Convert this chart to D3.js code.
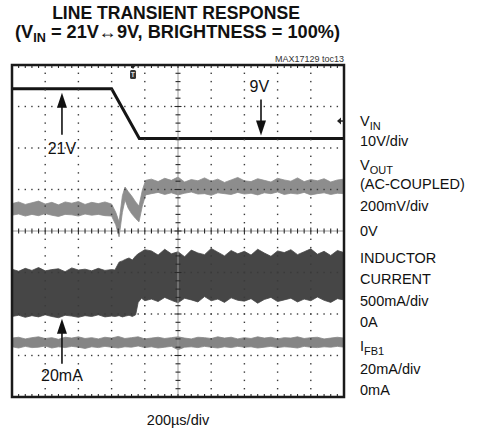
<!DOCTYPE html>
<html>
<head>
<meta charset="utf-8">
<script src="https://cdn.jsdelivr.net/npm/d3@7"></script>
<style>
body{margin:0;background:#fff;}
text{font-family:"Liberation Sans", Arial, sans-serif;}
</style>
</head>
<body>
<svg width="477" height="432"></svg>
<script>
//scope screen is 10 x 8 divisions, 200us/div
var timeDomain = [0, 2000];
var divDomain = [-4, 4];

//VIN in volts, 10V/div
var vinTime = [0, 600, 767, 2000];
var vinVolts = [21, 21, 9, 9];
var vinZeroDiv = 1.33;
var vinPerDiv = 10;

//VOUT band (screen divisions)
var voutTime = [0,40,80,120,160,200,240,280,320,360,400,440,480,520,560,600,
    625,645,665,681,700,720,745,765,785,805,
    840,880,920,960,1000,1040,1080,1120,1160,1200,1240,1280,1320,1360,1400,
    1440,1480,1520,1560,1600,1640,1680,1720,1760,1800,1840,1880,1920,1960,2000];
var voutHi = [0.66,0.70,0.64,0.68,0.72,0.65,0.69,0.63,0.70,0.67,0.71,0.64,0.69,0.66,0.70,0.65,
    0.45,0.22,0.85,1.06,0.95,0.85,0.70,0.60,0.98,1.22,
    1.25,1.19,1.27,1.22,1.30,1.18,1.24,1.21,1.28,1.20,1.25,1.17,1.23,1.29,1.21,
    1.19,1.26,1.22,1.18,1.27,1.23,1.20,1.28,1.19,1.24,1.21,1.26,1.18,1.23,1.25];
var voutLo = [0.38,0.41,0.36,0.40,0.37,0.42,0.38,0.35,0.40,0.39,0.36,0.41,0.38,0.40,0.37,0.36,
    0.15,-0.14,0.45,0.75,0.55,0.42,0.30,0.22,0.60,0.87,
    0.90,0.93,0.88,0.92,0.87,0.91,0.94,0.89,0.90,0.86,0.92,0.90,0.88,0.93,0.89,
    0.91,0.87,0.92,0.90,0.94,0.88,0.91,0.89,0.93,0.87,0.90,0.92,0.88,0.91,0.90];

//inductor current band (screen divisions)
var indTime = [0,40,80,120,160,200,240,280,320,360,400,440,480,520,560,600,
    620,645,665,685,705,725,745,760,780,800,
    840,880,920,960,1000,1040,1080,1120,1160,1200,1240,1280,1320,1360,1400,
    1440,1480,1520,1560,1600,1640,1680,1720,1760,1800,1840,1880,1920,1960,2000];
var indHi = [-0.92,-0.97,-0.90,-0.95,-0.88,-0.96,-0.93,-0.91,-0.98,-0.89,-0.94,-0.92,-0.96,-0.90,-0.95,-0.93,
    -0.94,-0.75,-0.72,-0.68,-0.65,-0.70,-0.60,-0.55,-0.50,-0.45,
    -0.48,-0.58,-0.44,-0.55,-0.50,-0.62,-0.46,-0.53,-0.57,-0.42,-0.51,-0.60,-0.47,-0.55,-0.49,
    -0.58,-0.44,-0.53,-0.61,-0.48,-0.52,-0.45,-0.57,-0.50,-0.43,-0.56,-0.49,-0.59,-0.47,-0.52];
var indLo = [-2.06,-2.03,-2.08,-2.04,-2.07,-2.02,-2.06,-2.09,-2.03,-2.05,-2.08,-2.04,-2.06,-2.02,-2.07,-2.05,
    -2.06,-2.04,-2.07,-2.05,-2.03,-2.06,-2.02,-1.72,-1.62,-1.68,
    -1.64,-1.70,-1.60,-1.67,-1.73,-1.62,-1.66,-1.71,-1.58,-1.68,-1.64,-1.72,-1.61,-1.67,-1.69,
    -1.63,-1.74,-1.65,-1.60,-1.70,-1.66,-1.62,-1.71,-1.64,-1.68,-1.59,-1.67,-1.72,-1.63,-1.66];

//IFB1 band (screen divisions)
var ifbTime = [0,40,80,120,160,200,240,280,320,360,400,440,480,520,560,600,640,680,720,760,
    800,840,880,920,960,1000,1040,1080,1120,1160,1200,1240,1280,1320,1360,1400,1440,1480,1520,1560,
    1600,1640,1680,1720,1760,1800,1840,1880,1920,1960,2000];
var ifbHi = [-2.58,-2.56,-2.60,-2.57,-2.55,-2.59,-2.57,-2.61,-2.56,-2.58,
    -2.55,-2.59,-2.57,-2.60,-2.56,-2.58,-2.54,-2.59,-2.57,-2.55,
    -2.60,-2.58,-2.56,-2.59,-2.57,-2.55,-2.58,-2.60,-2.56,-2.57,
    -2.59,-2.55,-2.58,-2.56,-2.60,-2.57,-2.59,-2.55,-2.58,-2.56,
    -2.60,-2.57,-2.58,-2.55,-2.59,-2.57,-2.56,-2.60,-2.58,-2.56,-2.58];
var ifbLo = [-2.79,-2.82,-2.78,-2.81,-2.80,-2.77,-2.82,-2.79,-2.81,-2.78,
    -2.80,-2.83,-2.79,-2.81,-2.78,-2.80,-2.82,-2.79,-2.80,-2.77,
    -2.81,-2.79,-2.82,-2.80,-2.78,-2.86,-2.80,-2.79,-2.81,-2.78,
    -2.80,-2.82,-2.79,-2.81,-2.78,-2.80,-2.79,-2.82,-2.80,-2.78,
    -2.81,-2.79,-2.80,-2.82,-2.78,-2.80,-2.81,-2.79,-2.80,-2.78,-2.80];

//texts
var titleLine1 = "LINE TRANSIENT RESPONSE";
var titleLine2 = [["(V", ""], ["IN", "sub"], [" = 21V\u21949V, BRIGHTNESS = 100%)", ""]];
var tocLabel = "MAX17129 toc13";
var timeLabel = "200\u00b5s/div";
var sideLabels = [["V", "IN"], ["10V/div"], ["V", "OUT"], ["(AC-COUPLED)"], ["200mV/div"], ["0V"],
    ["INDUCTOR"], ["CURRENT"], ["500mA/div"], ["0A"], ["I", "FB1"], ["20mA/div"], ["0mA"]];

var svg = d3.select('svg');
var x = d3.scaleLinear().domain(timeDomain).range([12, 344]);
var y = d3.scaleLinear().domain(divDomain).range([397, 65]);

function vinDiv(v){
    return vinZeroDiv + v / vinPerDiv;
}

function band(times, hi, lo){
    return times.map(function(t, i){
        return {t: t, hi: hi[i], lo: lo[i]};
    });
}

var area = d3.area()
    .x(function(d){ return x(d.t); })
    .y0(function(d){ return y(d.lo); })
    .y1(function(d){ return y(d.hi); });

//traces
svg.append('path').datum(band(indTime, indHi, indLo))
    .attr('d', area).attr('fill', '#464646').attr('stroke', '#464646').attr('stroke-width', 0.8);
svg.append('path').datum(band(voutTime, voutHi, voutLo))
    .attr('d', area).attr('fill', '#8d8d8d').attr('stroke', '#8d8d8d').attr('stroke-width', 0.8);
svg.append('path').datum(band(ifbTime, ifbHi, ifbLo))
    .attr('d', area).attr('fill', '#858585').attr('stroke', '#858585').attr('stroke-width', 0.8);

var vinLine = d3.line()
    .x(function(d, i){ return x(vinTime[i]); })
    .y(function(d){ return y(vinDiv(d)); });
svg.append('path').attr('d', vinLine(vinVolts))
    .attr('fill', 'none').attr('stroke', '#151515').attr('stroke-width', 3);

//grid
var grid = svg.append('g').attr('fill', '#3a3a3a');
d3.range(1, 10).forEach(function(i){
    if(i == 5) return;
    d3.range(1, 40).forEach(function(k){
        grid.append('rect').attr('x', x(i * 200) - 0.7).attr('y', y(-4 + k * 0.2) - 0.7)
            .attr('width', 1.4).attr('height', 1.4);
    });
});
d3.range(1, 8).forEach(function(j){
    if(j == 4) return;
    d3.range(1, 50).forEach(function(k){
        grid.append('rect').attr('x', x(k * 40) - 0.7).attr('y', y(-4 + j) - 0.7)
            .attr('width', 1.4).attr('height', 1.4);
    });
});

//center axes with minor ticks
svg.append('line').attr('x1', x(0)).attr('x2', x(2000)).attr('y1', y(0)).attr('y2', y(0))
    .attr('stroke', '#9a9a9a').attr('stroke-width', 1);
svg.append('line').attr('x1', x(1000)).attr('x2', x(1000)).attr('y1', y(-4)).attr('y2', y(4))
    .attr('stroke', '#9a9a9a').attr('stroke-width', 1);
var ticks = svg.append('g').attr('stroke', '#2a2a2a').attr('stroke-width', 1.1);
d3.range(1, 50).forEach(function(k){
    var len = (k % 5 == 0) ? 3.5 : 2.5;
    ticks.append('line').attr('x1', x(k * 40)).attr('x2', x(k * 40))
        .attr('y1', y(0) - len).attr('y2', y(0) + len);
    ticks.append('line').attr('x1', x(k * 40)).attr('x2', x(k * 40))
        .attr('y1', y(4)).attr('y2', y(4) + 3);
    ticks.append('line').attr('x1', x(k * 40)).attr('x2', x(k * 40))
        .attr('y1', y(-4)).attr('y2', y(-4) - 3);
});
d3.range(1, 40).forEach(function(k){
    var len = (k % 5 == 0) ? 3.5 : 2.5;
    ticks.append('line').attr('x1', x(1000) - len).attr('x2', x(1000) + len)
        .attr('y1', y(-4 + k * 0.2)).attr('y2', y(-4 + k * 0.2));
});

//frame
svg.append('rect').attr('x', x(0)).attr('y', y(4))
    .attr('width', x(2000) - x(0)).attr('height', y(-4) - y(4))
    .attr('fill', 'none').attr('stroke', '#1a1a1a').attr('stroke-width', 2.5);

//trigger marker
var tx = x(729);
svg.append('path').attr('d', 'M' + (tx - 3) + ',' + y(4) + 'L' + (tx + 3) + ',' + y(4) + 'L' + tx + ',' + (y(4) + 4) + 'Z')
    .attr('fill', '#222');
svg.append('rect').attr('x', tx - 3).attr('y', y(4) + 5).attr('width', 6).attr('height', 9)
    .attr('rx', 1.5).attr('fill', '#333');
svg.append('text').attr('x', tx).attr('y', y(4) + 12).attr('text-anchor', 'middle')
    .attr('font-size', 7).attr('font-weight', 'bold').attr('fill', '#ddd').text('T');

//right edge marker
var my = y(2.65);
svg.append('path').attr('d', 'M' + (x(2000) - 7) + ',' + my + 'L' + (x(2000) - 3) + ',' + (my - 3.5) + 'L' + (x(2000) - 3) + ',' + (my + 3.5) + 'Z')
    .attr('fill', '#222');
svg.append('line').attr('x1', x(2000) - 4).attr('x2', x(2000)).attr('y1', my).attr('y2', my)
    .attr('stroke', '#222').attr('stroke-width', 1.5);

//arrows
function arrow(xp, yTip, yTail){
    var dir = yTail > yTip ? 1 : -1;
    svg.append('line').attr('x1', xp).attr('x2', xp).attr('y1', yTail).attr('y2', yTip + dir * 10)
        .attr('stroke', '#111').attr('stroke-width', 1.6);
    svg.append('path').attr('d', 'M' + xp + ',' + yTip + 'L' + (xp - 5) + ',' + (yTip + dir * 15) + 'L' + (xp + 5) + ',' + (yTip + dir * 15) + 'Z')
        .attr('fill', '#111');
}
arrow(x(301), y(vinDiv(21)) + 4, y(vinDiv(21)) + 46);
arrow(x(1500), y(vinDiv(9)) - 3, y(vinDiv(9)) - 39);
arrow(x(301), y(-2.09) + 1, y(-2.09) + 46);

var ann = svg.append('g').attr('font-size', 16).attr('fill', '#111').attr('text-anchor', 'middle');
ann.append('text').attr('x', x(301)).attr('y', y(vinDiv(21)) + 65).text('21V');
ann.append('text').attr('x', x(1490)).attr('y', y(vinDiv(9)) - 46).text('9V');
ann.append('text').attr('x', x(301)).attr('y', y(-2.09) + 63).text('20mA');

//titles, squeezed to the width of the original condensed face
function squeeze(sel, cx, target){
    var w = sel.node().getComputedTextLength();
    sel.attr('transform', 'translate(' + cx + ',0) scale(' + (target / w) + ',1) translate(' + (-cx) + ',0)');
}
var t1 = svg.append('text').attr('x', 176).attr('y', 19).attr('text-anchor', 'middle')
    .attr('font-size', 18).attr('font-weight', 'bold').attr('fill', '#111').text(titleLine1);
squeeze(t1, 176, 248);
var t2 = svg.append('text').attr('x', 177.5).attr('y', 42).attr('text-anchor', 'middle')
    .attr('font-size', 18).attr('font-weight', 'bold').attr('fill', '#111');
titleLine2.forEach(function(p){
    if(p[1] == 'sub'){
        t2.append('tspan').attr('font-size', 12.5).attr('dy', 3.5).text(p[0]);
    }
    else{
        t2.append('tspan').attr('dy', t2.selectAll('tspan').size() ? -3.5 : 0).text(p[0]);
    }
});
squeeze(t2, 177.5, 325);

svg.append('text').attr('x', 344).attr('y', 62).attr('text-anchor', 'end')
    .attr('font-size', 9).attr('fill', '#333').text(tocLabel);

svg.append('text').attr('x', 178).attr('y', 425).attr('text-anchor', 'middle')
    .attr('font-size', 14.5).attr('fill', '#111').text(timeLabel);

//channel labels on the right
var labelY = [126, 146, 170, 189, 211, 236, 263, 284, 306, 327, 351, 374, 395];
sideLabels.forEach(function(p, i){
    var t = svg.append('text').attr('x', 360).attr('y', labelY[i])
        .attr('font-size', 14.5).attr('fill', '#111');
    t.append('tspan').text(p[0]);
    if(p[1]){
        t.append('tspan').attr('font-size', 11).attr('dy', 4).text(p[1]);
    }
});
</script>
</body>
</html>
